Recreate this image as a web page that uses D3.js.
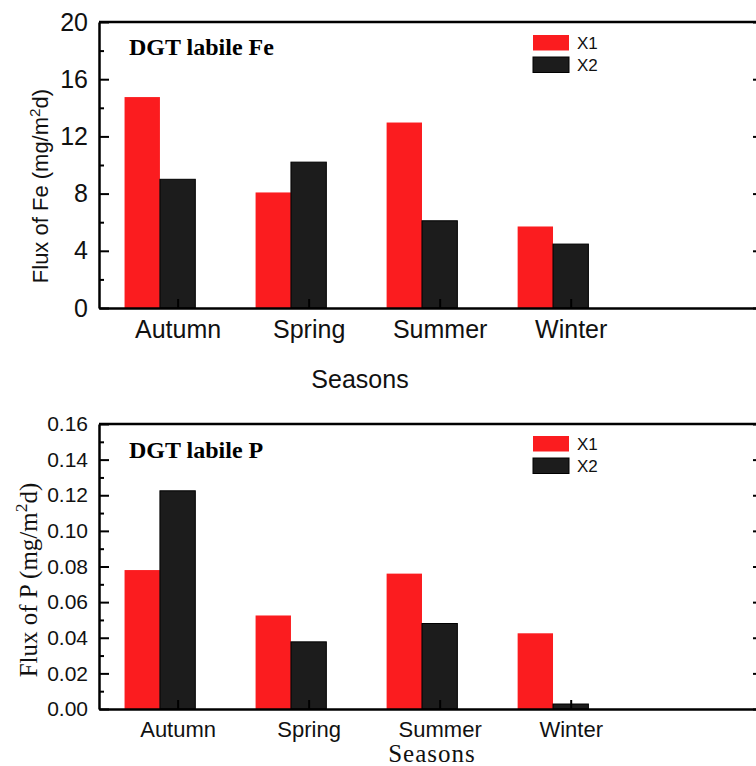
<!DOCTYPE html>
<html lang="en">
	<head>
		<meta charset="utf-8">
		<title>DGT labile Fe and P</title>
		<script type="text/javascript" src="https://cdn.jsdelivr.net/npm/d3@7"></script>
		<style type="text/css">
			body { margin: 0; background: #fff; }
			svg { display: block; }
		</style>
	</head>
	<body>
		<script type="text/javascript">
			//Width and height
			var w = 756;
			var h = 766;

			var seasons = ["Autumn", "Spring", "Summer", "Winter"];
			var seriesNames = ["X1", "X2"];
			var seriesColors = ["#fb1c1f", "#1c1c1c"];

			//Fe flux (mg/m2d)
			var feX1 = [14.75, 8.08, 12.97, 5.7];
			var feX2 = [9.0, 10.2, 6.1, 4.47];
			var feTicks = [0, 4, 8, 12, 16, 20];

			//P flux (mg/m2d)
			var pX1 = [0.078, 0.0525, 0.076, 0.0425];
			var pX2 = [0.1225, 0.0377, 0.048, 0.0028];
			var pTicks = [0, 0.02, 0.04, 0.06, 0.08, 0.10, 0.12, 0.14, 0.16];

			var sans = "'Liberation Sans', Arial, sans-serif";
			var serif = "'Liberation Serif', 'Times New Roman', serif";

			var svg = d3.select("body")
						.append("svg")
						.attr("width", w)
						.attr("height", h);

			var left = 99, right = 762;

			//shared category scale (index units)
			var xScale = d3.scaleLinear()
							.domain([-0.6, 4.46])
							.range([left, right]);
			var barW = 0.27;

			function drawPanel(p) {
				var yScale = d3.scaleLinear()
								.domain([0, p.max])
								.range([p.bottom, p.top]);

				var g = svg.append("g");

				//bars
				var series = [p.x1, p.x2];
				series.forEach(function(vals, s) {
					g.selectAll("rect.s" + s)
					 .data(vals)
					 .enter()
					 .append("rect")
					 .attr("class", "s" + s)
					 .attr("x", function(d, i) {
					 	return xScale(i - 1.5 * barW + s * barW);
					 })
					 .attr("y", function(d) { return yScale(d); })
					 .attr("width", xScale(barW) - xScale(0))
					 .attr("height", function(d) { return p.bottom - yScale(d); })
					 .attr("fill", seriesColors[s])
					 .attr("stroke", s === 1 ? "#000" : "none")
					 .attr("stroke-width", 1);
				});

				//minor y ticks
				g.append("g")
				 .attr("transform", "translate(" + left + ",0)")
				 .call(d3.axisLeft(yScale).tickValues(p.minor).tickSize(-5).tickFormat(""))
				 .call(function(a) { a.select(".domain").remove(); });

				//left axis
				var yAxis = g.append("g")
				 .attr("transform", "translate(" + left + ",0)")
				 .call(d3.axisLeft(yScale).tickValues(p.ticks).tickSizeInner(-10).tickSizeOuter(0)
				 		.tickPadding(11).tickFormat(p.fmt));
				yAxis.selectAll("text")
				 .attr("font-family", sans)
				 .attr("font-size", p.tickFont)
				 .attr("fill", "#111");

				//right axis, ticks only
				g.append("g")
				 .attr("transform", "translate(" + right + ",0)")
				 .call(d3.axisRight(yScale).tickValues(p.ticks).tickSizeInner(-9).tickSizeOuter(0).tickFormat(""));

				//bottom axis
				var xAxis = g.append("g")
				 .attr("transform", "translate(0," + p.bottom + ")")
				 .call(d3.axisBottom(xScale).tickValues(d3.range(seasons.length)).tickSizeInner(-9)
				 		.tickSizeOuter(0).tickPadding(p.catPad)
				 		.tickFormat(function(i) { return seasons[i]; }));
				xAxis.selectAll("text")
				 .attr("font-family", sans)
				 .attr("font-size", p.catFont)
				 .attr("fill", "#111");

				//top frame line
				g.append("line")
				 .attr("x1", left).attr("x2", right)
				 .attr("y1", p.top).attr("y2", p.top)
				 .attr("stroke", "#000").attr("stroke-width", 2.5);

				g.selectAll(".domain").attr("stroke-width", 2.5);
				g.selectAll(".tick line").attr("stroke-width", 2);

				//panel title
				g.append("text")
				 .attr("x", 129)
				 .attr("y", p.titleY)
				 .attr("font-family", serif)
				 .attr("font-weight", "bold")
				 .attr("font-size", "24px")
				 .text(p.title);

				//legend
				var leg = g.selectAll("g.leg")
				 .data(seriesNames)
				 .enter()
				 .append("g")
				 .attr("class", "leg")
				 .attr("transform", function(d, i) {
				 	return "translate(533," + (p.legY + i * 22) + ")";
				 });
				leg.append("rect")
				 .attr("width", 36)
				 .attr("height", 15.5)
				 .attr("fill", function(d, i) { return seriesColors[i]; })
				 .attr("stroke", function(d, i) { return i === 1 ? "#000" : "none"; });
				leg.append("text")
				 .attr("x", 44)
				 .attr("y", 8)
				 .attr("dy", "0.36em")
				 .attr("font-family", sans)
				 .attr("font-size", "17px")
				 .attr("fill", "#111")
				 .text(function(d) { return d; });

				//y axis label
				var yl = g.append("text")
				 .attr("transform", "rotate(-90)")
				 .attr("x", -p.yLabCy)
				 .attr("y", p.yLabX)
				 .attr("text-anchor", "middle")
				 .attr("font-family", p.labFamily)
				 .attr("font-size", p.labFont)
				 .attr("fill", "#111");
				yl.append("tspan").text(p.yLab + " (mg/m");
				yl.append("tspan").attr("baseline-shift", "super").attr("font-size", "0.7em").text("2");
				yl.append("tspan").text("d)");

				//x axis label
				g.append("text")
				 .attr("x", p.xLabX)
				 .attr("y", p.xLabY)
				 .attr("text-anchor", "middle")
				 .attr("font-family", p.labFamily)
				 .attr("font-size", p.xLabFont)
				 .attr("letter-spacing", p.xLabSpacing)
				 .attr("fill", "#111")
				 .text("Seasons");
			}

			drawPanel({
				top: 22, bottom: 308, max: 20,
				x1: feX1, x2: feX2,
				ticks: feTicks, minor: [2, 6, 10, 14, 18],
				fmt: d3.format("d"), tickFont: "25px",
				catFont: "25px", catPad: 12,
				title: "DGT labile Fe", titleY: 55, legY: 35,
				yLab: "Flux of Fe", labFamily: sans, labFont: "22px", yLabCy: 186, yLabX: 48,
				xLabX: 360, xLabY: 388, xLabFont: "25px", xLabSpacing: 0
			});

			drawPanel({
				top: 424, bottom: 709, max: 0.16,
				x1: pX1, x2: pX2,
				ticks: pTicks, minor: [0.01, 0.03, 0.05, 0.07, 0.09, 0.11, 0.13, 0.15],
				fmt: d3.format(".2f"), tickFont: "21px",
				catFont: "22px", catPad: 12,
				title: "DGT labile P", titleY: 458, legY: 436,
				yLab: "Flux of P", labFamily: serif, labFont: "25px", yLabCy: 580, yLabX: 37,
				xLabX: 432, xLabY: 762, xLabFont: "25px", xLabSpacing: 1
			});
		</script>
	</body>
</html>
